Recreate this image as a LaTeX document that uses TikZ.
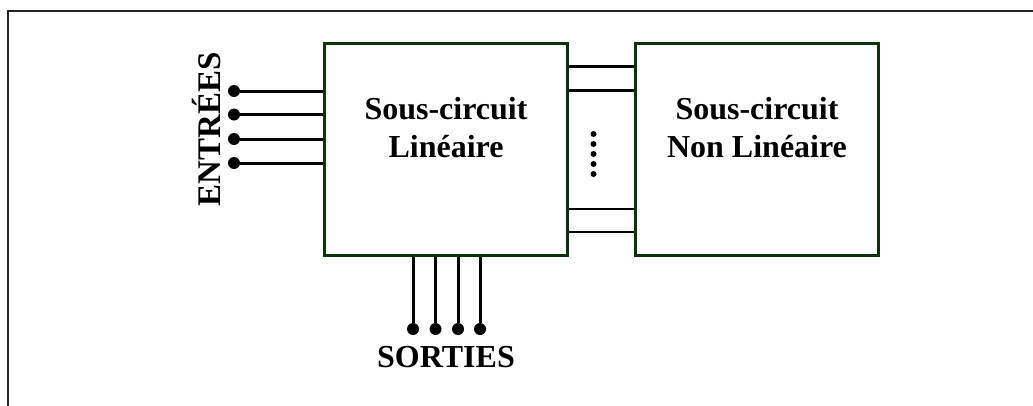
\documentclass[tikz,border=0pt]{standalone}
\usepackage{fontspec}
\setmainfont{Liberation Serif}
\definecolor{boxgreen}{RGB}{12,52,12}
\begin{document}
\begin{tikzpicture}[x=1pt,y=-1pt,
  frame/.style={draw=black!85,line width=2.5pt},
  box/.style={draw=boxgreen,line width=3.8pt,minimum width=243pt,minimum height=212pt,inner sep=0pt},
  wire/.style={draw=black,line width=3pt},
  thin wire/.style={draw=black,line width=2.2pt},
  dot/.style={circle,fill=black,inner sep=0pt,minimum size=12pt},
  small dot/.style={circle,fill=black,inner sep=0pt,minimum size=6pt},
  lbl/.style={font=\fontsize{32}{38}\selectfont\bfseries,align=center,inner sep=0pt}]
\useasboundingbox (0,0) rectangle (1033,405);
\coordinate (f1) at (8,420);
\coordinate (f2) at (8,11);
\coordinate (f3) at (1045,11);
\draw[frame] (f1) -- (f2) -- (f3);
% boxes
\node[box] (L) at (446,149.5) {};
\node[box] (R) at (757,149.5) {};
\node[lbl] (Lt) at (446,128) {Sous-circuit\\Linéaire};
\node[lbl] (Rt) at (757,128) {Sous-circuit\\Non Linéaire};
% inputs
\node[dot] (e1) at (234,91) {};
\node[dot] (e2) at (234,114.5) {};
\node[dot] (e3) at (234,139) {};
\node[dot] (e4) at (234,163) {};
\foreach \i in {1,...,4} \draw[wire] (e\i) -- (e\i -| L.west);
\node[lbl,font=\fontsize{33}{38}\selectfont\bfseries,rotate=90] (in) at (207,129) {ENTRÉES};
% outputs
\node[dot] (s1) at (413,329) {};
\node[dot] (s2) at (435.5,329) {};
\node[dot] (s3) at (458,329) {};
\node[dot] (s4) at (480,329) {};
\foreach \i in {1,...,4} \draw[wire] (s\i) -- (s\i |- L.south);
\node[lbl] (out) at (446,357) {SORTIES};
% links between boxes
\coordinate (h1) at (600,66.5);
\coordinate (h2) at (600,90.5);
\coordinate (h3) at (600,209);
\coordinate (h4) at (600,232);
\foreach \i in {1,...,4} \draw[thin wire] (h\i -| L.east) -- (h\i -| R.west);
\foreach \y [count=\k] in {134,144,154,164,174} \node[small dot] (v\k) at (593.5,\y) {};
\end{tikzpicture}
\end{document}
